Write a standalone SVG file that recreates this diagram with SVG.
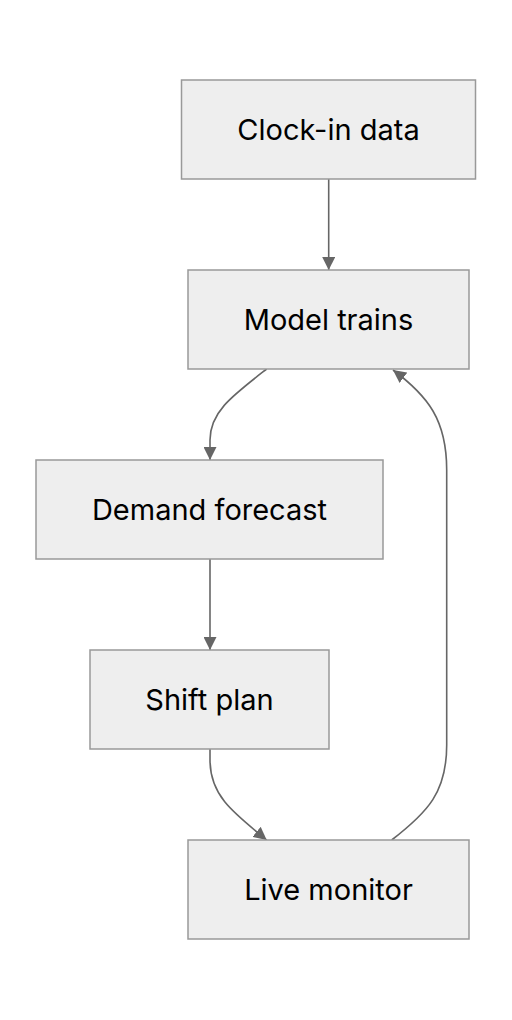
<svg xmlns="http://www.w3.org/2000/svg" width="512" height="1020" viewBox="0 0 512 1020">
<style>
.node rect{fill:#eeeeee;stroke:#999999;stroke-width:1.5}
.node text{font-family:Inter,"Liberation Sans",sans-serif;font-size:29px;fill:#000;text-anchor:middle;dominant-baseline:central}
.edge{fill:none;stroke:#666666;stroke-width:1.6}
</style>
<defs>
<marker id="arrow" viewBox="0 0 13 13" refX="13" refY="6.5" markerWidth="13" markerHeight="13" markerUnits="userSpaceOnUse" orient="auto">
<path d="M0,0 L13,6.5 L0,13 Z" fill="#666666"/>
</marker>
</defs>
<rect width="512" height="1020" fill="#ffffff"/>
<g id="edges">
<path class="edge" d="M328.7,179 L328.7,270" marker-end="url(#arrow)"/>
<path class="edge" d="M266.7,369 C232,396 210,412 210,440 L210,460" marker-end="url(#arrow)"/>
<path class="edge" d="M210,559 L210,650" marker-end="url(#arrow)"/>
<path class="edge" d="M210,749 L210,760 C210,795 232,812 266.7,840" marker-end="url(#arrow)"/>
<path class="edge" d="M391.7,840 C428,812 446.7,792 446.7,745 L446.7,470 C446.7,420 428,396 393,370" marker-end="url(#arrow)"/>
</g>
<g id="clock-in" class="node"><rect x="181.5" y="80" width="294" height="99"/><text x="328.5" y="129.5">Clock-in data</text></g>
<g id="model" class="node"><rect x="188" y="270" width="281" height="99"/><text x="328.5" y="319.5">Model trains</text></g>
<g id="demand" class="node"><rect x="36" y="460" width="347" height="99"/><text x="209.5" y="509.5">Demand forecast</text></g>
<g id="shift" class="node"><rect x="90" y="650" width="239" height="99"/><text x="209.5" y="699.5">Shift plan</text></g>
<g id="live" class="node"><rect x="188" y="840" width="281" height="99"/><text x="328.5" y="889.5">Live monitor</text></g>
</svg>
